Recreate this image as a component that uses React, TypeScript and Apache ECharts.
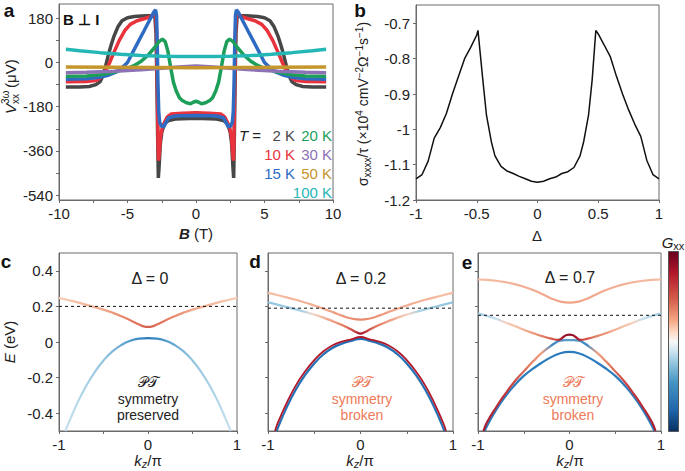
import React, { useEffect, useRef } from 'react';
import * as echarts from 'echarts';

const FONT = '"Liberation Sans", Arial, Helvetica, sans-serif';

// ---------- Panel a: V_xx^{3ω} vs B ----------
const gray2K: number[][] = [[-9.5,-100],[-8.5,-100],[-7.8,-98],[-7.3,-90],[-7,-78],[-6.8,-55],[-6.6,-15],[-6.4,30],[-6.2,70],[-6,105],[-5.7,145],[-5.4,170],[-5,182],[-4.5,187],[-4,189],[-3.5,190],[-3.2,190],[-3,185],[-2.92,120],[-2.86,-60],[-2.8,-300],[-2.75,-470],[-2.7,-430],[-2.6,-330],[-2.5,-285],[-2.35,-258],[-2.2,-245],[-2,-236],[-1.5,-230],[-1,-229],[-0.5,-228],[0,-228],[0.5,-228],[1,-229],[1.5,-230],[2,-236],[2.2,-245],[2.35,-258],[2.5,-285],[2.6,-330],[2.7,-430],[2.75,-470],[2.8,-300],[2.86,-60],[2.92,120],[3,185],[3.2,190],[3.5,190],[4,189],[4.5,187],[5,182],[5.4,170],[5.7,145],[6,105],[6.2,70],[6.4,30],[6.6,-15],[6.8,-55],[7,-78],[7.3,-90],[7.8,-98],[8.5,-100],[9.5,-100]];
const red10K: number[][] = [[-9.5,-79],[-8,-78],[-7.3,-74],[-6.9,-60],[-6.6,-35],[-6.3,0],[-6,40],[-5.6,90],[-5.2,130],[-4.8,155],[-4.3,170],[-3.8,178],[-3.4,185],[-3.1,194],[-2.95,198],[-2.88,120],[-2.82,-100],[-2.77,-330],[-2.73,-400],[-2.68,-370],[-2.58,-300],[-2.45,-262],[-2.3,-245],[-2.1,-222],[-1.8,-210],[-1,-207],[0,-205],[1,-207],[1.8,-210],[2.1,-222],[2.3,-245],[2.45,-262],[2.58,-300],[2.68,-370],[2.73,-400],[2.77,-330],[2.82,-100],[2.88,120],[2.95,198],[3.1,194],[3.4,185],[3.8,178],[4.3,170],[4.8,155],[5.2,130],[5.6,90],[6,40],[6.3,0],[6.6,-35],[6.9,-60],[7.3,-74],[8,-78],[9.5,-79]];
const blue15K: number[][] = [[-9.5,-68],[-8,-66],[-7,-60],[-6.3,-50],[-5.8,-38],[-5.4,-22],[-5,0],[-4.6,43],[-4.2,86],[-3.8,128],[-3.4,171],[-3.1,203],[-2.95,215],[-2.88,190],[-2.83,80],[-2.78,-80],[-2.72,-200],[-2.65,-245],[-2.5,-260],[-2.35,-262],[-2.2,-245],[-2,-225],[-1.5,-218],[-1,-217],[0,-216],[1,-217],[1.5,-218],[2,-225],[2.2,-245],[2.35,-262],[2.5,-260],[2.65,-245],[2.72,-200],[2.78,-80],[2.83,80],[2.88,190],[2.95,215],[3.1,203],[3.4,171],[3.8,128],[4.2,86],[4.6,43],[5,0],[5.4,-22],[5.8,-38],[6.3,-50],[7,-60],[8,-66],[9.5,-68]];
const green20K: number[][] = [[-9.5,-56],[-8,-55],[-7,-50],[-6,-40],[-5,-25],[-4.5,-12],[-4,5],[-3.5,30],[-3,62],[-2.7,85],[-2.45,95],[-2.25,85],[-2.05,45],[-1.85,-20],[-1.65,-80],[-1.45,-115],[-1.2,-145],[-1,-155],[-0.7,-164],[-0.4,-168],[-0.2,-162],[0,-158],[0.2,-162],[0.4,-168],[0.7,-164],[1,-155],[1.2,-145],[1.45,-115],[1.65,-80],[1.85,-20],[2.05,45],[2.25,85],[2.45,95],[2.7,85],[3,62],[3.5,30],[4,5],[4.5,-12],[5,-25],[6,-40],[7,-50],[8,-55],[9.5,-56]];
const purple30K: number[][] = [[-9.5,-42],[-8,-40],[-6,-36],[-4,-30],[-2,-22],[-1,-17],[0,-14],[1,-17],[2,-22],[4,-30],[6,-36],[8,-40],[9.5,-42]];
const gold50K: number[][] = [[-9.5,-19],[-6,-20],[-3,-21],[0,-22],[3,-21],[6,-20],[9.5,-19]];
const cyan100K: number[][] = [[-9.5,54],[-8.5,48],[-7,40],[-5.5,33],[-4,28],[-2.5,25],[-1,24],[0,24],[1,24],[2.5,25],[4,28],[5.5,33],[7,40],[8.5,48],[9.5,54]];
const aTickValues = [-540, -450, -360, -270, -180, -90, 0, 90, 180];
const aLabelValues = [-540, -360, -180, 0, 180];
const aXTicks = [-10, -7.5, -5, -2.5, 0, 2.5, 5, 7.5, 10];
const aXLabels = [-10, -5, 0, 5, 10];

// ---------- Panel b: sigma/tau vs Delta ----------
const sigmaB: number[][] = [[-1,-1.14],[-0.95,-1.128],[-0.9,-1.09],[-0.85,-1.025],[-0.8,-0.995],[-0.75,-0.955],[-0.7,-0.9],[-0.65,-0.85],[-0.6,-0.8],[-0.55,-0.768],[-0.5,-0.733],[-0.49,-0.72],[-0.45,-0.86],[-0.42,-0.96],[-0.38,-1.035],[-0.35,-1.075],[-0.3,-1.105],[-0.25,-1.118],[-0.2,-1.125],[-0.15,-1.133],[-0.1,-1.14],[-0.05,-1.147],[0,-1.15],[0.05,-1.147],[0.1,-1.14],[0.15,-1.135],[0.2,-1.125],[0.25,-1.12],[0.3,-1.108],[0.35,-1.075],[0.38,-1.035],[0.42,-0.96],[0.45,-0.86],[0.48,-0.72],[0.5,-0.73],[0.55,-0.762],[0.6,-0.795],[0.65,-0.85],[0.7,-0.9],[0.75,-0.945],[0.8,-0.985],[0.85,-1.02],[0.9,-1.088],[0.95,-1.128],[1,-1.14]];
const bYLabels = [-1.2, -1.1, -1, -0.9, -0.8, -0.7];

// ---------- Panels c, d, e: band structures E(kz) ----------
const cCond: number[][] = [[-1,0.248],[-0.9,0.236],[-0.8,0.224],[-0.7,0.21],[-0.6,0.196],[-0.5,0.182],[-0.4,0.165],[-0.3,0.145],[-0.2,0.122],[-0.1,0.098],[-0.05,0.088],[0,0.085],[0.05,0.088],[0.1,0.098],[0.2,0.122],[0.3,0.145],[0.4,0.165],[0.5,0.182],[0.6,0.196],[0.7,0.21],[0.8,0.224],[0.9,0.236],[1,0.248]];
const cVal: number[][] = [[-0.93,-0.5],[-0.9,-0.465],[-0.8,-0.349],[-0.7,-0.251],[-0.6,-0.17],[-0.5,-0.104],[-0.4,-0.053],[-0.3,-0.017],[-0.2,0.007],[-0.1,0.019],[0,0.022],[0.1,0.019],[0.2,0.007],[0.3,-0.017],[0.4,-0.053],[0.5,-0.104],[0.6,-0.17],[0.7,-0.251],[0.8,-0.349],[0.9,-0.465],[0.93,-0.5]];
const d1: number[][] = [[-1,0.276],[-0.9,0.264],[-0.8,0.251],[-0.7,0.237],[-0.6,0.222],[-0.5,0.205],[-0.4,0.187],[-0.3,0.168],[-0.2,0.148],[-0.1,0.132],[0,0.126],[0.1,0.132],[0.2,0.148],[0.3,0.168],[0.4,0.187],[0.5,0.205],[0.6,0.222],[0.7,0.237],[0.8,0.251],[0.9,0.264],[1,0.276]];
const d2: number[][] = [[-1,0.223],[-0.9,0.21],[-0.8,0.197],[-0.7,0.183],[-0.6,0.169],[-0.5,0.154],[-0.4,0.137],[-0.3,0.117],[-0.2,0.095],[-0.1,0.07],[-0.05,0.056],[0,0.047],[0.05,0.056],[0.1,0.07],[0.2,0.095],[0.3,0.117],[0.4,0.137],[0.5,0.154],[0.6,0.169],[0.7,0.183],[0.8,0.197],[0.9,0.21],[1,0.223]];
const d3: number[][] = [[-0.924,-0.5],[-0.9,-0.462],[-0.8,-0.345],[-0.7,-0.245],[-0.6,-0.166],[-0.5,-0.102],[-0.4,-0.052],[-0.3,-0.018],[-0.2,0.002],[-0.1,0.015],[0,0.028],[0.1,0.015],[0.2,0.002],[0.3,-0.018],[0.4,-0.052],[0.5,-0.102],[0.6,-0.166],[0.7,-0.245],[0.8,-0.345],[0.9,-0.462],[0.924,-0.5]];
const d4: number[][] = [[-0.905,-0.5],[-0.9,-0.49],[-0.8,-0.37],[-0.7,-0.268],[-0.6,-0.186],[-0.5,-0.121],[-0.4,-0.069],[-0.3,-0.032],[-0.2,-0.009],[-0.1,0.006],[0,0.018],[0.1,0.006],[0.2,-0.009],[0.3,-0.032],[0.4,-0.069],[0.5,-0.121],[0.6,-0.186],[0.7,-0.268],[0.8,-0.37],[0.9,-0.49],[0.905,-0.5]];
const e1: number[][] = [[-1,0.351],[-0.9,0.349],[-0.8,0.344],[-0.7,0.336],[-0.6,0.325],[-0.5,0.31],[-0.4,0.292],[-0.3,0.27],[-0.2,0.245],[-0.1,0.227],[0,0.221],[0.1,0.227],[0.2,0.245],[0.3,0.27],[0.4,0.292],[0.5,0.31],[0.6,0.325],[0.7,0.336],[0.8,0.344],[0.9,0.349],[1,0.351]];
const e2: number[][] = [[-1,0.159],[-0.9,0.146],[-0.8,0.13],[-0.7,0.11],[-0.6,0.09],[-0.5,0.069],[-0.4,0.05],[-0.3,0.033],[-0.2,0.019],[-0.12,0.012],[-0.09,0.018],[-0.06,0.031],[-0.03,0.039],[0,0.041],[0.03,0.039],[0.06,0.031],[0.09,0.018],[0.12,0.012],[0.2,0.019],[0.3,0.033],[0.4,0.05],[0.5,0.069],[0.6,0.09],[0.7,0.11],[0.8,0.13],[0.9,0.146],[1,0.159]];
const e3: number[][] = [[-0.94,-0.5],[-0.9,-0.45],[-0.8,-0.365],[-0.7,-0.29],[-0.6,-0.222],[-0.5,-0.165],[-0.4,-0.11],[-0.3,-0.06],[-0.2,-0.02],[-0.13,0.003],[-0.1,0.008],[-0.05,0.01],[0,0.01],[0.05,0.01],[0.1,0.008],[0.13,0.003],[0.2,-0.02],[0.3,-0.06],[0.4,-0.11],[0.5,-0.165],[0.6,-0.222],[0.7,-0.29],[0.8,-0.365],[0.9,-0.45],[0.94,-0.5]];
const e4: number[][] = [[-0.925,-0.5],[-0.9,-0.47],[-0.8,-0.38],[-0.7,-0.305],[-0.6,-0.243],[-0.5,-0.19],[-0.4,-0.15],[-0.3,-0.115],[-0.2,-0.085],[-0.1,-0.063],[0,-0.056],[0.1,-0.063],[0.2,-0.085],[0.3,-0.115],[0.4,-0.15],[0.5,-0.19],[0.6,-0.243],[0.7,-0.305],[0.8,-0.38],[0.9,-0.47],[0.925,-0.5]];
const fermiC = 0.2;
const fermiD = 0.19;
const fermiE = 0.15;
const kTicks = [-1, -0.5, 0, 0.5, 1];
const kLabels = [-1, 0, 1];
const eTicks = [-0.4, -0.2, 0, 0.2, 0.4];

const grad = (stops: [number, string][]) =>
  new echarts.graphic.LinearGradient(0, 0, 1, 0, stops.map(([offset, color]) => ({ offset, color })));

const AX = '#6a6a6a';
const TXT = '#222';
const ORANGE = '#ee7a58';

function xAx(gridIndex: number, min: number, max: number, ticks: number[], labels: number[]) {
  return {
    type: 'value', gridIndex, min, max,
    axisLine: { show: true, onZero: false, lineStyle: { color: AX, width: 1 } },
    axisTick: { show: true, inside: false, length: 3, customValues: ticks, lineStyle: { color: AX } },
    axisLabel: { show: labels.length > 0, customValues: labels, color: TXT, fontSize: 15, fontFamily: FONT, margin: 6 },
    splitLine: { show: false },
  };
}
function yAx(gridIndex: number, min: number, max: number, ticks: number[], labels: number[]) {
  return {
    type: 'value', gridIndex, min, max,
    axisLine: { show: true, onZero: false, lineStyle: { color: AX, width: 1 } },
    axisTick: { show: true, inside: false, length: 3, customValues: ticks, lineStyle: { color: AX } },
    axisLabel: { show: labels.length > 0, customValues: labels, color: TXT, fontSize: 15, fontFamily: FONT, margin: 6 },
    splitLine: { show: false },
  };
}

function line(data: number[][], idx: number, color: any, width: number, extra: any = {}) {
  return {
    type: 'line', data, xAxisIndex: idx, yAxisIndex: idx, symbol: 'none', silent: true,
    lineStyle: { color, width }, ...extra,
  };
}

const smoothOpt = { smooth: 0.5 };

function dashed(idx: number, level: number) {
  return line([[-1, level], [1, level]], idx, '#111', 1, { lineStyle: { color: '#111', width: 1, type: [3, 3] }, z: 10 });
}

function t(x: number, y: number, text: string, style: any = {}) {
  return {
    type: 'text', x, y, silent: true,
    style: { text, fill: TXT, fontFamily: FONT, fontSize: 15, align: 'center', verticalAlign: 'middle', ...style },
  };
}

const richBase = (size: number) => ({
  n: { fontSize: size, fontFamily: FONT, fill: TXT, lineHeight: size + 4 },
  i: { fontSize: size, fontFamily: FONT, fill: TXT, fontStyle: 'italic', lineHeight: size + 4 },
  bi: { fontSize: size, fontFamily: FONT, fill: TXT, fontStyle: 'italic', fontWeight: 'bold', lineHeight: size + 4 },
  sub: { fontSize: size - 4, fontFamily: FONT, fill: TXT, verticalAlign: 'bottom', lineHeight: size - 4 },
  isub: { fontSize: size - 4, fontFamily: FONT, fill: TXT, fontStyle: 'italic', verticalAlign: 'bottom', lineHeight: size - 4 },
  sup: { fontSize: size - 4, fontFamily: FONT, fill: TXT, verticalAlign: 'top', lineHeight: size - 4 },
});

function ptBlock(x: number, last: string, color: string) {
  return [
    t(x, 382, '𝒫𝒯', { fontSize: 14, fontFamily: '"DejaVu Serif", "DejaVu Sans", serif', fill: color }),
    t(x, 398.5, 'symmetry', { fontSize: 14, fill: color }),
    t(x, 415, last, { fontSize: 14, fill: color }),
  ];
}

export default function App() {
  const ref = useRef<HTMLDivElement>(null);
  useEffect(() => {
    const chart = echarts.init(ref.current!, null, { renderer: 'svg' });
    const gridBase = { show: true, borderColor: AX, borderWidth: 1, backgroundColor: 'transparent', containLabel: false, outerBoundsMode: 'none' };
    const option: any = {
      animation: false,
      backgroundColor: '#ffffff',
      grid: [
        { ...gridBase, left: 59, top: 4, width: 274, height: 196 },
        { ...gridBase, left: 416, top: 5, width: 243, height: 195 },
        { ...gridBase, left: 59, top: 253, width: 178, height: 178 },
        { ...gridBase, left: 268, top: 253, width: 185, height: 178 },
        { ...gridBase, left: 478, top: 253, width: 183, height: 178 },
      ],
      xAxis: [
        xAx(0, -10, 10, aXTicks, aXLabels),
        xAx(1, -1, 1, kTicks, kTicks),
        xAx(2, -1, 1, kTicks, kLabels),
        xAx(3, -1, 1, kTicks, kLabels),
        xAx(4, -1, 1, kTicks, kLabels),
      ],
      yAxis: [
        yAx(0, -560, 238, aTickValues, aLabelValues),
        yAx(1, -1.2, -0.648, bYLabels, bYLabels),
        yAx(2, -0.5, 0.5, eTicks, eTicks),
        yAx(3, -0.5, 0.5, eTicks, []),
        yAx(4, -0.5, 0.5, eTicks, []),
      ],
      series: [
        line(gray2K, 0, '#474747', 3.5),
        line(red10K, 0, '#e8323c', 3.5),
        line(blue15K, 0, '#2e6cc3', 3.5),
        line(green20K, 0, '#1d9f59', 3.5),
        line(purple30K, 0, '#8e72b6', 3.5),
        line(gold50K, 0, '#c5962c', 3.5),
        line(cyan100K, 0, '#25b6b6', 3.5),
        line(sigmaB, 1, '#111', 1.5),
        // c
        line(cVal, 2, grad([[0, '#c6e0ee'], [0.25, '#8fc1de'], [0.4, '#4d98c9'], [0.5, '#2b7bbd'], [0.6, '#4d98c9'], [0.75, '#8fc1de'], [1, '#c6e0ee']]), 2.2, smoothOpt),
        line(cCond, 2, grad([[0, '#f8cdb6'], [0.25, '#f0a98c'], [0.4, '#e47e64'], [0.5, '#d6604d'], [0.6, '#e47e64'], [0.75, '#f0a98c'], [1, '#f8cdb6']]), 2.2, smoothOpt),
        dashed(2, fermiC),
        // d
        line(d4, 3, '#2470b5', 2.2, smoothOpt),
        line(d3, 3, '#b2182b', 1.8, smoothOpt),
        line(d2, 3, grad([[0, '#8ec4de'], [0.18, '#a9d1e6'], [0.24, '#f2d9cb'], [0.3, '#f3b89d'], [0.42, '#e0745c'], [0.47, '#c33a3d'], [0.5, '#a8142d'], [0.53, '#c33a3d'], [0.58, '#e0745c'], [0.7, '#f3b89d'], [0.76, '#f2d9cb'], [0.82, '#a9d1e6'], [1, '#8ec4de']]), 2.2, smoothOpt),
        line(d1, 3, grad([[0, '#f6c0a6'], [0.3, '#f2a98d'], [0.5, '#e8876b'], [0.7, '#f2a98d'], [1, '#f6c0a6']]), 2.2, smoothOpt),
        dashed(3, fermiD),
        // e
        line(e4, 4, '#2b7bbd', 2.2, smoothOpt),
        line(e3, 4, grad([[0, '#a81a30'], [0.15, '#c23b3d'], [0.27, '#e17a60'], [0.34, '#eea084'], [0.4, '#3c88c4'], [0.5, '#5b9fcd'], [0.6, '#3c88c4'], [0.66, '#eea084'], [0.73, '#e17a60'], [0.85, '#c23b3d'], [1, '#a81a30']]), 2.2, smoothOpt),
        line(e2, 4, grad([[0, '#9ecbe2'], [0.1, '#c5dfed'], [0.15, '#f5d2c0'], [0.25, '#f3b194'], [0.35, '#e48467'], [0.42, '#cf4c45'], [0.46, '#a3152e'], [0.5, '#8e0c28'], [0.54, '#a3152e'], [0.58, '#cf4c45'], [0.65, '#e48467'], [0.75, '#f3b194'], [0.85, '#f5d2c0'], [0.9, '#c5dfed'], [1, '#9ecbe2']]), 2.2, smoothOpt),
        line(e1, 4, grad([[0, '#f5bca2'], [0.5, '#efa286'], [1, '#f5bca2']]), 2.2, smoothOpt),
        dashed(4, fermiE),
      ],
      graphic: [
        // panel letters
        t(9, 10, 'a', { fontSize: 19, fontWeight: 'bold', fill: '#111' }),
        t(360, 10, 'b', { fontSize: 19, fontWeight: 'bold', fill: '#111' }),
        t(6, 261, 'c', { fontSize: 19, fontWeight: 'bold', fill: '#111' }),
        t(255, 261, 'd', { fontSize: 19, fontWeight: 'bold', fill: '#111' }),
        t(467, 262, 'e', { fontSize: 19, fontWeight: 'bold', fill: '#111' }),
        // panel a annotations
        t(63, 19, 'B ⊥ I', { fontWeight: 'bold', align: 'left', fill: '#111' }),
        t(239, 135, '{i|T}{n| =}', { align: 'left', rich: richBase(15) }),
        t(295, 135, '2 K', { align: 'right', fill: '#474747' }),
        t(332, 135, '20 K', { align: 'right', fill: '#1d9f59' }),
        t(295, 154, '10 K', { align: 'right', fill: '#e8323c' }),
        t(332, 154, '30 K', { align: 'right', fill: '#8e72b6' }),
        t(295, 173, '15 K', { align: 'right', fill: '#2e6cc3' }),
        t(332, 173, '50 K', { align: 'right', fill: '#c5962c' }),
        t(332, 192, '100 K', { align: 'right', fill: '#25b6b6' }),
        // axis names
        t(196, 233, '{bi|B}{n| (T)}', { rich: richBase(15) }),
        {
          type: 'group', x: 10, y: 86, rotation: Math.PI / 2, silent: true,
          children: [
            { type: 'text', x: -28, y: 0, style: { text: 'V', fontStyle: 'italic', fontSize: 15, fontFamily: FONT, fill: TXT, align: 'left', verticalAlign: 'middle' } },
            { type: 'text', x: -18, y: -5, style: { text: '3ω', fontSize: 10, fontFamily: FONT, fill: TXT, align: 'left', verticalAlign: 'middle' } },
            { type: 'text', x: -18, y: 5, style: { text: 'xx', fontSize: 10, fontFamily: FONT, fill: TXT, align: 'left', verticalAlign: 'middle' } },
            { type: 'text', x: -2, y: 0, style: { text: '(μV)', fontSize: 15, fontFamily: FONT, fill: TXT, align: 'left', verticalAlign: 'middle' } },
          ],
        },
        t(537, 235, 'Δ', { fontSize: 15 }),
        {
          type: 'group', x: 363, y: 104, rotation: Math.PI / 2, silent: true,
          children: [
            t(0, 0, '{n|σ}{sub|xxxx}{n|/τ (×10}{sup|4}{n| cmV}{sup|−2}{n|Ω}{sup|−1}{n|s}{sup|−1}{n|)}', { rich: richBase(14) }),
          ],
        },
        {
          type: 'group', x: 9, y: 342, rotation: Math.PI / 2, silent: true,
          children: [t(0, 0, '{i|E}{n| (eV)}', { rich: richBase(15) })],
        },
        t(148, 460, '{i|k}{isub|z}{n|/π}', { rich: richBase(15) }),
        t(360, 460, '{i|k}{isub|z}{n|/π}', { rich: richBase(15) }),
        t(570, 460, '{i|k}{isub|z}{n|/π}', { rich: richBase(15) }),
        // panel c/d/e annotations
        t(150, 278, 'Δ = 0', { fontSize: 16 }),
        t(361, 278, 'Δ = 0.2', { fontSize: 16 }),
        t(570, 277, 'Δ = 0.7', { fontSize: 16 }),
        ...ptBlock(148, 'preserved', TXT),
        ...ptBlock(362, 'broken', ORANGE),
        ...ptBlock(573, 'broken', ORANGE),
        // colour bar
        {
          type: 'rect', x: 668.5, y: 251.5, silent: true,
          shape: { width: 10, height: 180 },
          style: {
            stroke: '#555', lineWidth: 1,
            fill: new echarts.graphic.LinearGradient(0, 0, 0, 1, [
              { offset: 0, color: '#67001f' }, { offset: 0.12, color: '#b2182b' }, { offset: 0.27, color: '#d6604d' },
              { offset: 0.38, color: '#f4a582' }, { offset: 0.45, color: '#fddbc7' }, { offset: 0.5, color: '#f7f7f7' },
              { offset: 0.55, color: '#d1e5f0' }, { offset: 0.62, color: '#92c5de' }, { offset: 0.73, color: '#4393c3' },
              { offset: 0.88, color: '#2166ac' }, { offset: 1, color: '#053061' },
            ]),
          },
        },
        t(673, 242, '{i|G}{sub|xx}', { rich: richBase(15) }),
      ],
    };
    chart.setOption(option);
    return () => chart.dispose();
  }, []);
  return <div ref={ref} style={{ position: 'absolute', left: 0, top: 0, width: 685, height: 471, background: '#fff' }} />;
}
